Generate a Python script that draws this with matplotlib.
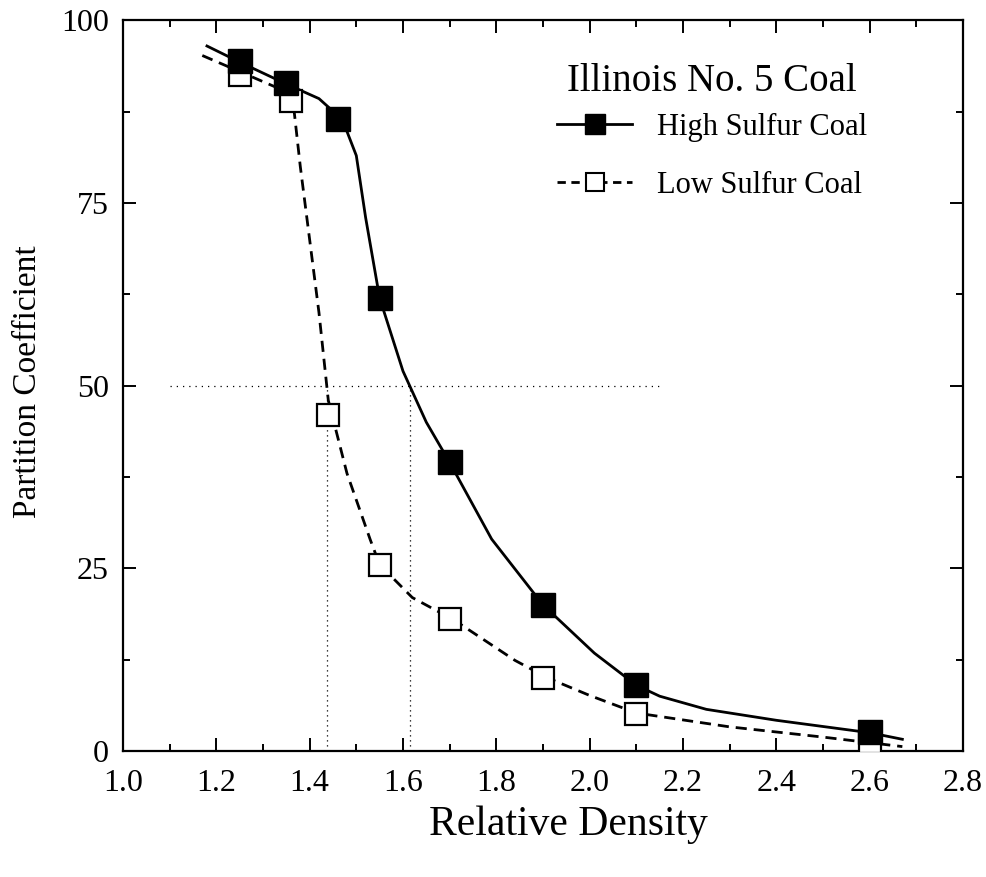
import matplotlib
matplotlib.use('Agg')
import matplotlib.pyplot as plt
from matplotlib.ticker import MultipleLocator

plt.rcParams['font.family'] = ['Liberation Serif', 'DejaVu Serif']

# measured points
high_x = [1.25, 1.35, 1.46, 1.55, 1.70, 1.90, 2.10, 2.60]
high_y = [94.5, 91.5, 86.5, 62.0, 39.5, 20.0, 9.0, 2.6]
low_x = [1.25, 1.36, 1.44, 1.55, 1.70, 1.90, 2.10, 2.60]
low_y = [92.5, 89.0, 46.0, 25.5, 18.0, 10.0, 5.0, 1.2]

# fitted curves
high_curve_x = [1.18, 1.25, 1.35, 1.42, 1.46, 1.48, 1.50, 1.52, 1.55, 1.60, 1.65, 1.70,
                1.79, 1.90, 2.01, 2.10, 2.15, 2.25, 2.40, 2.60, 2.67]
high_curve_y = [96.5, 94.3, 91.3, 89.3, 87.0, 84.8, 81.5, 73.0, 62.0, 52.0, 45.0, 39.5,
                29.0, 20.0, 13.4, 9.0, 7.5, 5.7, 4.2, 2.5, 1.6]
low_curve_x = [1.17, 1.25, 1.33, 1.365, 1.38, 1.40, 1.42, 1.44, 1.48, 1.53, 1.55, 1.62,
               1.71, 1.84, 1.91, 2.00, 2.10, 2.30, 2.50, 2.67]
low_curve_y = [95.2, 93.0, 90.8, 88.6, 80.0, 70.0, 60.0, 48.0, 38.0, 28.9, 25.5, 21.0,
               17.9, 12.4, 10.0, 7.6, 5.2, 3.3, 1.9, 0.6]

# dotted guide lines at 50 %
guide_y = 50
guide_x_range = [1.10, 2.15]
guide_verticals = [1.438, 1.616]

fig = plt.figure(figsize=(9.86, 8.77), dpi=100)
ax = fig.add_axes([0.1247, 0.1437, 0.852, 0.833])

ax.plot(guide_x_range, [guide_y, guide_y], color='black', linestyle=(0, (1, 4)), linewidth=0.9)
for gx in guide_verticals:
    ax.plot([gx, gx], [0, guide_y], color='black', linestyle=(0, (1, 3)), linewidth=0.9)

ax.plot(high_curve_x, high_curve_y, color='black', linewidth=2.0, solid_joinstyle='round')
ax.plot(low_curve_x, low_curve_y, color='black', linewidth=2.0, linestyle=(0, (4, 2.5)))
ax.plot(low_x, low_y, linestyle='none', marker='s', markersize=16, markerfacecolor='white',
        markeredgecolor='black', markeredgewidth=1.6, zorder=3)
ax.plot(high_x, high_y, linestyle='none', marker='s', markersize=17, color='black', zorder=4)

# legend (title drawn separately so the spacing matches)
h1, = ax.plot([], [], color='black', linewidth=2.0, marker='s', markersize=14)
h2, = ax.plot([], [], color='black', linewidth=2.0, linestyle=(0, (3, 2)), marker='s',
              markersize=13, markerfacecolor='white', markeredgewidth=1.5)
leg = ax.legend([h1, h2], ['High Sulfur Coal', 'Low Sulfur Coal'],
                loc='upper right', bbox_to_anchor=(0.918, 0.911), frameon=False, fontsize=22,
                handlelength=2.45, handletextpad=0.8, labelspacing=0.95)
ax.text(0.701, 0.917, 'Illinois No. 5 Coal', transform=ax.transAxes, fontsize=28,
        ha='center', va='center')

ax.set_xlim(1.0, 2.8)
ax.set_ylim(0, 100)
ax.xaxis.set_major_locator(MultipleLocator(0.2))
ax.xaxis.set_minor_locator(MultipleLocator(0.1))
ax.yaxis.set_major_locator(MultipleLocator(25))
ax.yaxis.set_minor_locator(MultipleLocator(12.5))
ax.xaxis.set_major_formatter(plt.FuncFormatter(lambda v, p: '%.1f' % v))
ax.tick_params(which='both', direction='in', top=True, right=True, width=1.4, labelsize=23)
ax.tick_params(which='major', length=9.5)
ax.tick_params(which='minor', length=5)
ax.tick_params(axis='x', which='major', pad=13)
ax.tick_params(axis='y', which='major', pad=10)
for s in ax.spines.values():
    s.set_linewidth(1.6)

ax.set_xlabel('Relative Density', fontsize=30)
ax.set_ylabel('Partition Coefficient', fontsize=24)
ax.xaxis.set_label_coords(0.53, -0.075)
ax.yaxis.set_label_coords(-0.095, 0.505)

fig.savefig('out.png', dpi=100)
